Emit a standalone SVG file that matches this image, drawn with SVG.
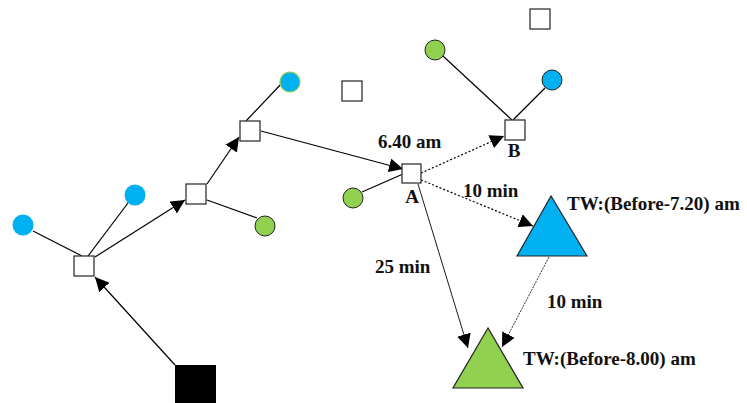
<svg xmlns="http://www.w3.org/2000/svg" width="747" height="403" viewBox="0 0 747 403">
<style>
.sq{fill:#fff;stroke:#333;stroke-width:1.3}
.blue{fill:#00B0F0}
.green{fill:#92D050;stroke:#222;stroke-width:1}
.ln{stroke:#000;stroke-width:1.2;fill:none}
.thin{stroke:#000;stroke-width:0.9;fill:none}
.dot{stroke:#000;stroke-width:1.2;fill:none;stroke-dasharray:2 2}
.dot2{stroke:#000;stroke-width:0.8;fill:none;stroke-dasharray:2 1}
.lbl{font-family:"Liberation Serif","Times New Roman",serif;font-weight:bold;font-size:19px;fill:#111}
</style>
<defs>
<marker id="ah" viewBox="0 0 10 10" refX="10" refY="5" markerWidth="14" markerHeight="14" markerUnits="userSpaceOnUse" orient="auto">
<path d="M0,0 L10,5 L0,10 z" fill="#000"/>
</marker>
</defs>
<rect width="747" height="403" fill="#fff"/>
<g id="connectors">
<line class="ln" x1="33" y1="231" x2="82" y2="256"/>
<line class="ln" x1="128" y1="203" x2="88" y2="256"/>
<line class="ln" x1="175" y1="365" x2="95" y2="277" marker-end="url(#ah)"/>
<line class="ln" x1="95" y1="257" x2="185" y2="200" marker-end="url(#ah)"/>
<line class="ln" x1="207" y1="184" x2="239" y2="137" marker-end="url(#ah)"/>
<line class="ln" x1="207" y1="200" x2="257" y2="218"/>
<line class="ln" x1="246" y1="121" x2="282" y2="83"/>
<line class="ln" x1="261" y1="131" x2="403" y2="169" marker-end="url(#ah)"/>
<line class="ln" x1="362" y1="192" x2="403" y2="174"/>
<line class="dot" x1="421" y1="173" x2="504" y2="136" marker-end="url(#ah)"/>
<line class="ln" x1="443" y1="56" x2="512" y2="120"/>
<line class="ln" x1="545" y1="88" x2="513" y2="120"/>
<line class="dot" x1="421" y1="180" x2="533" y2="226" marker-end="url(#ah)"/>
<line class="thin" x1="418" y1="184" x2="468" y2="348" marker-end="url(#ah)"/>
<line class="dot2" x1="549" y1="257" x2="502" y2="347" marker-end="url(#ah)"/>
</g>
<g id="n-s1"><rect class="sq" x="74" y="256" width="20" height="20"/></g>
<g id="n-s2"><rect class="sq" x="186" y="184" width="20" height="20"/></g>
<g id="n-s3"><rect class="sq" x="240" y="121" width="20" height="20"/></g>
<g id="n-s4"><rect class="sq" x="342" y="81" width="20" height="20"/></g>
<g id="n-s5"><rect class="sq" x="530" y="9" width="20" height="20"/></g>
<g id="n-B"><rect class="sq" x="505" y="120" width="20" height="20"/><text class="lbl" x="514" y="157" text-anchor="middle">B</text></g>
<g id="n-A"><rect class="sq" x="402" y="164" width="19" height="19"/><text class="lbl" x="412" y="203" text-anchor="middle">A</text></g>
<g id="n-depot"><rect x="175" y="365" width="41" height="40" fill="#000"/></g>
<g id="n-c1"><circle class="blue" cx="23" cy="225" r="10.5"/></g>
<g id="n-c2"><circle class="blue" cx="135" cy="195" r="10.5"/></g>
<g id="n-c3"><circle class="blue" cx="290" cy="82" r="10" stroke="#92D050" stroke-width="1.2"/></g>
<g id="n-g1"><circle class="green" cx="265" cy="226" r="10"/></g>
<g id="n-g2"><circle class="green" cx="353" cy="198" r="10"/></g>
<g id="n-g3"><circle class="green" cx="435" cy="50" r="10"/></g>
<g id="n-c4"><circle class="blue" cx="552" cy="80" r="10" stroke="#222" stroke-width="1"/></g>
<g id="n-tri-blue"><polygon points="551,196 517,256 587,256" fill="#00B0F0" stroke="#222" stroke-width="1.2"/><text class="lbl" x="567" y="210">TW:(Before-7.20) am</text></g>
<g id="n-tri-green"><polygon points="488,328 453,388 523,388" fill="#92D050" stroke="#222" stroke-width="1.2"/><text class="lbl" x="523" y="365">TW:(Before-8.00) am</text></g>
<g id="labels">
<text class="lbl" x="378" y="148">6.40 am</text>
<text class="lbl" x="463" y="197">10 min</text>
<text class="lbl" x="375" y="273">25 min</text>
<text class="lbl" x="547" y="308">10 min</text>
</g>
</svg>
